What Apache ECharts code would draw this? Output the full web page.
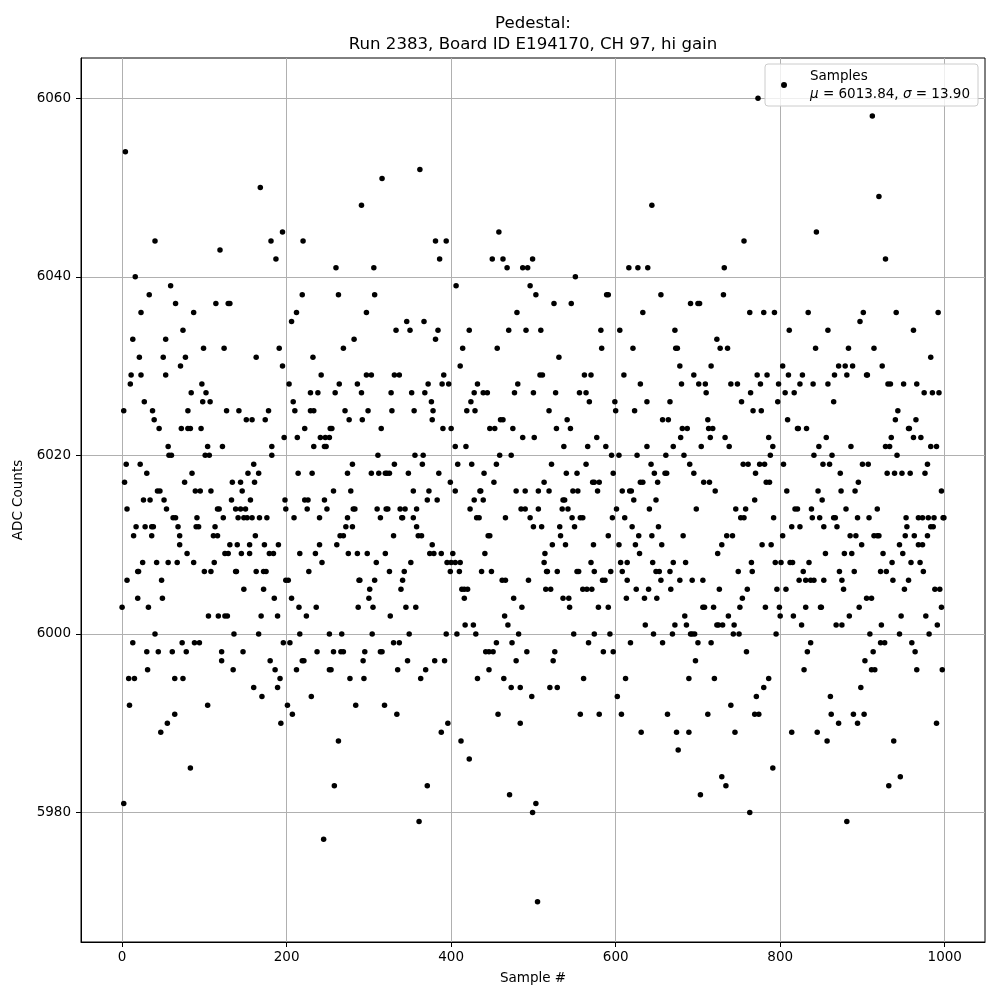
<!DOCTYPE html>
<html><head><meta charset="utf-8">
<script src="https://cdn.jsdelivr.net/npm/echarts@6/dist/echarts.min.js"></script>
<style>html,body{margin:0;padding:0;background:#fff}#chart{width:1000px;height:1000px}</style>
</head><body><div id="chart"></div>
<script>
// ADC levels (integer counts) and the sample numbers read at each level
const adcLevels = [6060,6058,6054,6052,6051,6050,6049,6048,6045,6044,6043,6042,6041,6040,6039,6038,6037,6036,6035,6034,6033,6032,6031,6030,6029,6028,6027,6026,6025,6024,6023,6022,6021,6020,6019,6018,6017,6016,6015,6014,6013,6012,6011,6010,6009,6008,6007,6006,6005,6004,6003,6002,6001,6000,5999,5998,5997,5996,5995,5994,5993,5992,5991,5990,5989,5988,5987,5986,5985,5984,5983,5982,5981,5980,5979,5977,5970];
const samplesAtLevel = [
  [773],
  [912],
  [4],
  [362],
  [316],
  [168],
  [920],
  [291, 644],
  [195, 458, 844],
  [40, 181, 220, 381, 394, 756],
  [119],
  [187, 386, 450, 463, 499, 928],
  [260, 306, 468, 487, 493, 616, 627, 639, 732],
  [16, 551],
  [59, 406, 496],
  [33, 219, 263, 307, 503, 589, 591, 655, 731],
  [65, 114, 129, 131, 525, 546, 691, 700, 702],
  [23, 87, 212, 297, 480, 633, 763, 780, 793, 834, 901, 941, 992],
  [206, 346, 367, 897],
  [74, 333, 350, 384, 422, 470, 491, 509, 582, 605, 672, 811, 858, 962],
  [13, 53, 282, 381, 723],
  [99, 124, 191, 269, 414, 456, 583, 621, 673, 675, 727, 736, 843, 883, 914],
  [21, 50, 77, 163, 232, 531, 983],
  [71, 195, 411, 678, 716, 803, 871, 879, 888, 924],
  [11, 23, 53, 242, 297, 303, 331, 337, 391, 508, 511, 562, 570, 610, 695, 772, 784, 810, 827, 866, 881, 905, 906],
  [10, 97, 203, 264, 286, 372, 389, 397, 432, 481, 630, 680, 701, 709, 740, 748, 776, 798, 824, 840, 858, 931, 934, 950, 966],
  [84, 102, 229, 238, 259, 291, 327, 352, 368, 428, 439, 444, 477, 500, 527, 556, 564, 710, 764, 806, 817, 975, 985, 993],
  [27, 98, 107, 208, 376, 424, 568, 599, 638, 666, 753, 797, 865],
  [2, 37, 80, 127, 142, 178, 210, 229, 233, 271, 299, 328, 355, 378, 419, 429, 519, 600, 623, 767, 777, 943],
  [39, 151, 158, 174, 276, 292, 377, 460, 463, 541, 657, 664, 712, 809, 940, 965],
  [45, 72, 80, 83, 96, 222, 253, 255, 315, 390, 400, 447, 453, 475, 528, 545, 681, 687, 713, 718, 821, 822, 832, 956, 957],
  [197, 213, 241, 247, 252, 487, 501, 577, 679, 715, 733, 786, 856, 935, 962, 971],
  [56, 104, 122, 182, 233, 246, 248, 405, 418, 537, 566, 588, 638, 670, 704, 738, 791, 847, 886, 928, 933, 983, 990],
  [57, 60, 101, 106, 182, 311, 356, 366, 459, 473, 595, 604, 626, 661, 683, 788, 841, 863, 942],
  [5, 22, 160, 280, 331, 365, 408, 425, 455, 522, 564, 643, 690, 755, 761, 775, 781, 804, 852, 860, 900, 907, 979],
  [30, 85, 153, 166, 214, 231, 274, 303, 312, 320, 322, 325, 348, 385, 440, 540, 553, 597, 647, 660, 662, 695, 770, 873, 930, 939, 948, 958, 976],
  [3, 76, 134, 144, 161, 399, 452, 513, 572, 574, 580, 630, 633, 651, 707, 714, 783, 787, 895],
  [43, 46, 89, 95, 108, 146, 257, 278, 354, 373, 405, 435, 436, 479, 490, 506, 519, 548, 554, 578, 608, 617, 619, 721, 808, 846, 874, 891, 996],
  [26, 34, 51, 133, 156, 198, 222, 226, 246, 371, 383, 428, 439, 536, 538, 622, 649, 769, 851],
  [6, 54, 116, 118, 138, 144, 150, 199, 225, 249, 281, 283, 310, 321, 323, 338, 344, 358, 423, 485, 490, 506, 535, 542, 601, 641, 698, 746, 758, 818, 821, 838, 880, 918],
  [62, 65, 91, 123, 141, 148, 152, 158, 167, 176, 209, 240, 274, 314, 340, 341, 354, 431, 434, 466, 496, 547, 557, 560, 596, 611, 752, 756, 792, 839, 848, 865, 867, 894, 908, 953, 968, 973, 980, 987, 998, 999],
  [17, 28, 36, 38, 68, 90, 93, 113, 272, 280, 358, 500, 510, 532, 550, 620, 652, 814, 824, 853, 869, 954, 983, 986],
  [14, 36, 70, 111, 116, 162, 265, 269, 330, 360, 364, 445, 447, 533, 591, 628, 644, 682, 735, 742, 803, 885, 892, 914, 918, 920, 952, 963, 979],
  [70, 131, 140, 155, 173, 190, 240, 261, 377, 523, 539, 573, 604, 624, 656, 729, 778, 789, 899, 945, 968, 973],
  [79, 125, 129, 145, 155, 179, 184, 216, 235, 275, 286, 298, 320, 374, 379, 388, 402, 441, 514, 629, 724, 855, 878, 887, 925, 949],
  [25, 42, 56, 67, 87, 112, 243, 309, 351, 395, 400, 405, 411, 513, 570, 606, 614, 645, 670, 685, 765, 794, 801, 812, 815, 835, 936, 959, 970],
  [19, 20, 100, 108, 138, 139, 163, 172, 175, 227, 325, 343, 399, 410, 437, 449, 516, 517, 529, 553, 555, 574, 594, 608, 649, 653, 666, 749, 766, 828, 872, 890, 922, 929, 974],
  [6, 48, 199, 202, 288, 289, 307, 341, 462, 466, 494, 584, 587, 614, 655, 678, 693, 706, 823, 831, 837, 841, 853, 875, 937, 956],
  [148, 172, 301, 339, 413, 416, 420, 515, 521, 560, 565, 571, 625, 640, 667, 726, 760, 796, 807, 877, 951, 988, 994],
  [19, 49, 185, 206, 300, 416, 476, 536, 543, 613, 635, 650, 754, 905, 911],
  [0, 32, 215, 236, 287, 305, 345, 357, 486, 544, 579, 591, 706, 708, 719, 751, 782, 799, 831, 849, 850, 896, 996],
  [105, 117, 125, 128, 169, 189, 224, 326, 465, 684, 737, 800, 816, 884, 947, 977],
  [417, 427, 469, 636, 672, 686, 723, 725, 730, 744, 826, 868, 875, 923, 991],
  [40, 136, 166, 216, 252, 267, 304, 349, 394, 407, 430, 482, 549, 574, 593, 646, 669, 691, 693, 696, 743, 750, 795, 909, 945, 981],
  [13, 73, 88, 94, 196, 204, 330, 337, 455, 474, 567, 618, 657, 700, 716, 837, 922, 927, 960],
  [30, 44, 61, 78, 121, 147, 237, 257, 266, 269, 295, 314, 316, 442, 446, 451, 492, 526, 585, 597, 759, 833, 913, 964],
  [121, 180, 219, 221, 293, 347, 380, 392, 479, 524, 697, 903],
  [31, 135, 186, 212, 252, 254, 335, 369, 446, 829, 911, 915, 966, 997],
  [8, 15, 64, 74, 192, 277, 294, 363, 432, 464, 561, 612, 689, 720, 786],
  [160, 189, 473, 484, 520, 529, 780, 898],
  [170, 230, 498, 602, 771, 861],
  [9, 104, 201, 284, 319, 740],
  [64, 207, 334, 457, 557, 580, 607, 663, 712, 769, 774, 862, 889, 902],
  [55, 193, 396, 484, 871, 894, 990],
  [47, 388, 631, 674, 689, 745, 814, 845],
  [263, 412, 857, 938],
  [676],
  [422],
  [83, 791],
  [729, 946],
  [258, 371, 734, 932],
  [471, 703],
  [2, 503],
  [499, 763],
  [361, 881],
  [245],
  [505]
];
const xTickValues = [0, 200, 400, 600, 800, 1000];
const yTickValues = [5980, 6000, 6020, 6040, 6060];
const seriesName = 'Samples';
const meanText = '6013.84';
const sigmaText = '13.90';
const titleLines = ['Pedestal:', 'Run 2383, Board ID E194170, CH 97, hi gain'];

const points = [];
adcLevels.forEach((lvl, i) => samplesAtLevel[i].forEach(s => points.push([s, lvl])));

const FONT = 'DejaVu Sans';
const chart = echarts.init(document.getElementById('chart'), null, {renderer: 'canvas'});
chart.setOption({
  animation: false,
  backgroundColor: '#fff',
  textStyle: {fontFamily: FONT},
  title: {
    text: titleLines.join('\n'),
    left: 528, top: 8, textAlign: 'center',
    textStyle: {fontFamily: FONT, fontSize: 16.6, fontWeight: 'normal', color: '#000', lineHeight: 21}
  },
  legend: {
    data: [seriesName],
    right: 22, top: 64,
    orient: 'vertical',
    icon: 'circle', itemWidth: 6, itemHeight: 6,
    padding: [5, 8, 5, 16],
    backgroundColor: 'rgba(255,255,255,0.8)',
    borderColor: '#cccccc', borderWidth: 1, borderRadius: 3,
    formatter: () => '{n|' + seriesName + '}\n{i|μ}{n| = ' + meanText + ', }{i|σ}{n| = ' + sigmaText + '}',
    textStyle: {
      fontFamily: FONT, fontSize: 13.5, color: '#000', padding: [0, 0, 0, 18],
      rich: {
        n: {fontFamily: FONT, fontSize: 13.5, color: '#000', lineHeight: 18},
        i: {fontFamily: FONT, fontSize: 13.5, color: '#000', fontStyle: 'italic', lineHeight: 18}
      }
    }
  },
  grid: {left: 81, top: 58, width: 904, height: 884, show: true, borderColor: '#000', borderWidth: 1, backgroundColor: 'transparent'},
  xAxis: {
    type: 'value', min: -49.95, max: 1048.95,
    name: 'Sample #', nameLocation: 'middle', nameGap: 29,
    nameTextStyle: {fontFamily: FONT, fontSize: 13.5, color: '#000'},
    axisLine: {show: true, onZero: false, lineStyle: {color: '#000', width: 1}},
    axisTick: {show: true, length: 5, inside: false, customValues: xTickValues, lineStyle: {color: '#000'}},
    axisLabel: {customValues: xTickValues, formatter: v => String(v), margin: 8, fontFamily: FONT, fontSize: 13.5, color: '#000'},
    splitLine: {show: true, lineStyle: {color: '#b0b0b0', width: 1}}
  },
  yAxis: {
    type: 'value', min: 5965.5, max: 6064.5,
    name: 'ADC Counts', nameLocation: 'middle', nameGap: 50, nameRotate: 90,
    nameTextStyle: {fontFamily: FONT, fontSize: 13.5, color: '#000'},
    axisLine: {show: true, onZero: false, lineStyle: {color: '#000', width: 1}},
    axisTick: {show: true, length: 5, inside: false, customValues: yTickValues, lineStyle: {color: '#000'}},
    axisLabel: {customValues: yTickValues, formatter: v => String(v), margin: 10, fontFamily: FONT, fontSize: 13.5, color: '#000'},
    splitLine: {show: true, lineStyle: {color: '#b0b0b0', width: 1}}
  },
  series: [{
    name: seriesName, type: 'scatter', data: points,
    symbol: 'circle', symbolSize: 5.5,
    itemStyle: {color: '#000', opacity: 1},
    emphasis: {disabled: true}
  }]
});
</script></body></html>
